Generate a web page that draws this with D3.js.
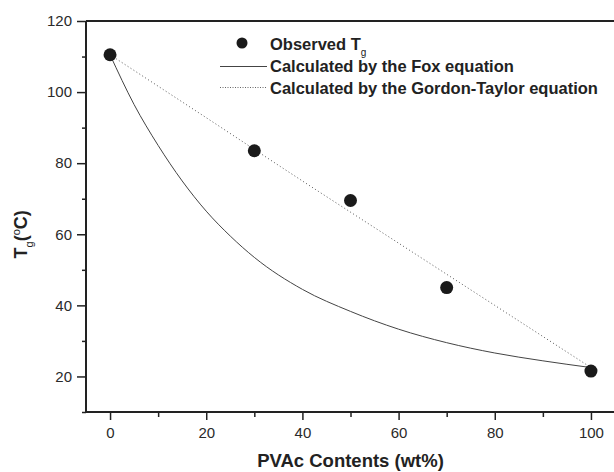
<!DOCTYPE html>
<html>
<head>
<meta charset="utf-8">
<script src="https://cdn.jsdelivr.net/npm/d3@7"></script>
<style>
  body { margin: 0; background: #fff; }
  svg { display: block; font-family: "Liberation Sans", Arial, sans-serif; }
</style>
</head>
<body>
<svg id="chart" width="614" height="472"></svg>
<script>
// observed Tg values
var obsContent = [0, 30, 50, 70, 100]
var obsTg = [110.5, 83.5, 69.5, 45, 21.5]

// Fox equation curve
var foxContent = [0, 5, 10, 15, 20, 25, 30, 40, 50, 60, 70, 80, 90, 100]
var foxTg = [110.5, 96.5, 85, 75, 66.5, 59.5, 53.5, 44.5, 38.3, 33.3, 29.5, 26.6, 24.4, 22.5]

// Gordon-Taylor curve
var gtContent = [0, 20, 40, 60, 80, 100]
var gtTg = [110.5, 92.8, 75, 57.5, 40, 22.5]

var xTicks = [0, 20, 40, 60, 80, 100]
var xMinor = [10, 30, 50, 70, 90]
var yTicks = [20, 40, 60, 80, 100, 120]
var yMinor = [10, 30, 50, 70, 90, 110]

var legendLabels = ["Observed T", "Calculated by the Fox equation", "Calculated by the Gordon-Taylor equation"]

var svg = d3.select("#chart")
var ink = "#222"

var x = d3.scaleLinear().domain([-5, 105]).range([86, 615])
var y = d3.scaleLinear().domain([10, 120]).range([412, 21])

// axes
var xAxis = d3.axisBottom(x).tickValues(xTicks).tickSize(8).tickPadding(7).tickFormat(d3.format("d"))
var xAxisMinor = d3.axisBottom(x).tickValues(xMinor).tickSize(5).tickFormat("")
var yAxis = d3.axisLeft(y).tickValues(yTicks).tickSize(9).tickPadding(5).tickFormat(d3.format("d"))
var yAxisMinor = d3.axisLeft(y).tickValues(yMinor).tickSize(4).tickFormat("")

function styleAxis(g){
    g.select(".domain").remove()
    g.selectAll("line").attr("stroke", ink).attr("stroke-width", 1.5)
    g.selectAll("text").attr("fill", "#2a2a2a").style("font-size", "15px").style("font-family", "Liberation Sans, Arial, sans-serif")
}

svg.append("g").attr("transform", "translate(0," + y(10) + ")").call(xAxis).call(styleAxis)
svg.append("g").attr("transform", "translate(0," + y(10) + ")").call(xAxisMinor).call(styleAxis)
svg.append("g").attr("transform", "translate(" + x(-5) + ",0)").call(yAxis).call(styleAxis)
svg.append("g").attr("transform", "translate(" + x(-5) + ",0)").call(yAxisMinor).call(styleAxis)

// frame lines
svg.append("line").attr("x1", x(-5)).attr("x2", x(105)).attr("y1", y(10)).attr("y2", y(10))
    .attr("stroke", ink).attr("stroke-width", 2)
svg.append("line").attr("x1", x(-5)).attr("x2", x(105)).attr("y1", y(120)).attr("y2", y(120))
    .attr("stroke", ink).attr("stroke-width", 2)
svg.append("line").attr("x1", x(-5)).attr("x2", x(-5)).attr("y1", y(120)).attr("y2", y(10))
    .attr("stroke", ink).attr("stroke-width", 2)

// curves
var line = d3.line().curve(d3.curveMonotoneX)
svg.append("path")
    .attr("d", line(foxContent.map(function(d, i){ return [x(d), y(foxTg[i])] })))
    .attr("fill", "none").attr("stroke", "#444").attr("stroke-width", 1)
svg.append("path")
    .attr("d", line(gtContent.map(function(d, i){ return [x(d), y(gtTg[i])] })))
    .attr("fill", "none").attr("stroke", "#555").attr("stroke-width", 1).attr("stroke-dasharray", "1,2.5")

// observed points
svg.selectAll("circle.obs").data(obsContent).enter().append("circle")
    .attr("class", "obs")
    .attr("cx", function(d){ return x(d) })
    .attr("cy", function(d, i){ return y(obsTg[i]) })
    .attr("r", 6.5)
    .attr("fill", "#1a1a1a")

// legend
var leg = svg.append("g")
leg.append("circle").attr("cx", 242).attr("cy", 43).attr("r", 5.5).attr("fill", "#1a1a1a")
leg.append("line").attr("x1", 220).attr("x2", 267).attr("y1", 66.5).attr("y2", 66.5)
    .attr("stroke", "#444").attr("stroke-width", 1)
leg.append("line").attr("x1", 220).attr("x2", 267).attr("y1", 87.5).attr("y2", 87.5)
    .attr("stroke", "#666").attr("stroke-width", 1).attr("stroke-dasharray", "1,1.5")
var lt = leg.selectAll("text.leg").data(legendLabels).enter().append("text")
    .attr("class", "leg")
    .attr("x", 270)
    .attr("y", function(d, i){ return 50 + i * 22 })
    .attr("fill", ink)
    .style("font-size", "16.5px").style("font-weight", "bold")
    .text(function(d){ return d })
lt.filter(function(d, i){ return i == 0 }).append("tspan")
    .attr("dy", 6).style("font-size", "10px").style("font-weight", "normal").text("g")

// axis titles
svg.append("text").attr("x", x(50)).attr("y", 467).attr("text-anchor", "middle")
    .attr("fill", ink).style("font-size", "18.5px").style("font-weight", "bold")
    .text("PVAc Contents (wt%)")

var yt = svg.append("text").attr("transform", "translate(27," + y(60) + ") rotate(-90)")
    .attr("text-anchor", "middle").attr("fill", ink)
    .style("font-size", "18px").style("font-weight", "bold")
yt.append("tspan").text("T")
yt.append("tspan").attr("dy", 6).style("font-size", "11px").style("font-weight", "normal").text("g")
yt.append("tspan").attr("dy", -6).text("(")
yt.append("tspan").attr("dy", -7).style("font-size", "11px").style("font-weight", "normal").text("o")
yt.append("tspan").attr("dy", 7).text("C)")
</script>
</body>
</html>
